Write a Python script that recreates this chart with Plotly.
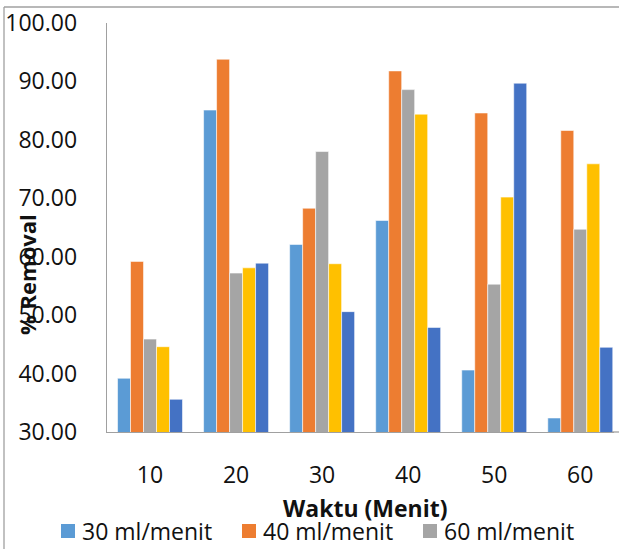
import plotly.graph_objects as go

categories = ["10", "20", "30", "40", "50", "60"]
s30 = [39.2, 85.1, 62.1, 66.2, 40.6, 32.4]
s40 = [59.2, 93.8, 68.3, 91.8, 84.6, 81.6]
s60 = [45.9, 57.2, 78.0, 88.6, 55.3, 64.7]
s80 = [44.6, 58.1, 58.8, 84.4, 70.2, 75.9]
s100 = [35.6, 58.9, 50.6, 47.9, 89.7, 44.5]
series_names = ["30 ml/menit", "40 ml/menit", "60 ml/menit", "80 ml/menit", "100 ml/menit"]
colors = ["#5B9BD5", "#ED7D31", "#A5A5A5", "#FFC000", "#4472C4"]
y_ticks = [30, 40, 50, 60, 70, 80, 90, 100]
legend_shown = series_names[:3]

W, H = 619, 549
L, R, T, B = 107, 0, 23, 117
pw, ph = W - L - R, H - T - B

def px(x):
    return (x - L) / pw

def py(y):
    return (H - B - y) / ph

fig = go.Figure()
for i, (name, vals) in enumerate(zip(series_names, [s30, s40, s60, s80, s100])):
    fig.add_trace(go.Bar(
        x=categories, y=vals, name=name,
        marker=dict(color=colors[i], line=dict(color="rgba(255,255,255,0.7)", width=0.8)),
        showlegend=False,
    ))

font_family = "Open Sans"
annotations = [
    dict(text="<b>% Removal</b>", x=px(27), y=py(275), xref="paper", yref="paper",
         textangle=-90, showarrow=False, font=dict(size=22, color="#111"),
         xanchor="center", yanchor="middle"),
    dict(text="<b>Waktu (Menit)</b>", x=px(365), y=py(508), xref="paper", yref="paper",
         showarrow=False, font=dict(size=23, color="#111"),
         xanchor="center", yanchor="middle"),
]
shapes = [
    # cover strip at the right edge (no frame there in the original)
    dict(type="rect", xref="paper", yref="paper", x0=px(614), x1=px(625), y0=py(-5), y1=py(560),
         fillcolor="white", line=dict(width=0), layer="above"),
    dict(type="line", xref="paper", yref="paper", x0=px(4), x1=px(640), y0=py(7), y1=py(7),
         line=dict(color="#A0A0A0", width=1.3)),
    dict(type="line", xref="paper", yref="paper", x0=px(4), x1=px(4), y0=py(7), y1=py(560),
         line=dict(color="#A0A0A0", width=1.3)),
    dict(type="line", xref="paper", yref="paper", x0=px(612), x1=px(640), y0=0, y1=0,
         line=dict(color="#A0A0A0", width=1.3)),
]
# manual legend
leg_x = [61, 242, 423]
for i, name in enumerate(legend_shown):
    x0 = leg_x[i]
    shapes.append(dict(type="rect", xref="paper", yref="paper",
                       x0=px(x0), x1=px(x0 + 14), y0=py(538), y1=py(524),
                       fillcolor=colors[i], line=dict(width=0)))
    annotations.append(dict(text=name, x=px(x0 + 19), y=py(531), xref="paper", yref="paper",
                            showarrow=False, xanchor="left", yanchor="middle",
                            font=dict(size=23, color="#111")))

fig.update_layout(
    width=W, height=H,
    margin=dict(l=L, r=R, t=T, b=B, pad=0, autoexpand=False),
    paper_bgcolor="white", plot_bgcolor="white",
    barmode="group", bargap=0.245, bargroupgap=0,
    font=dict(family=font_family, size=23, color="#111"),
    showlegend=False, hovermode=False,
    xaxis=dict(
        type="category", range=[-0.5, 5.45],
        showline=True, linecolor="#A0A0A0", linewidth=1.3,
        showgrid=False, ticks="", ticklabelstandoff=22,
        tickfont=dict(size=23),
    ),
    yaxis=dict(
        range=[30, 100], tickvals=y_ticks,
        ticktext=[f"{v:.2f}" for v in y_ticks],
        showline=True, linecolor="#A0A0A0", linewidth=1.3,
        showgrid=False, zeroline=False, ticks="", ticklabelstandoff=24,
        tickfont=dict(size=23),
    ),
    annotations=annotations,
    shapes=shapes,
)

fig.write_html(
    "out.html",
    config={"staticPlot": True, "displayModeBar": False},
    post_script=(
        "document.documentElement.style.overflow='hidden';"
        "document.body.style.margin='0';document.body.style.overflow='hidden';"
    ),
)
